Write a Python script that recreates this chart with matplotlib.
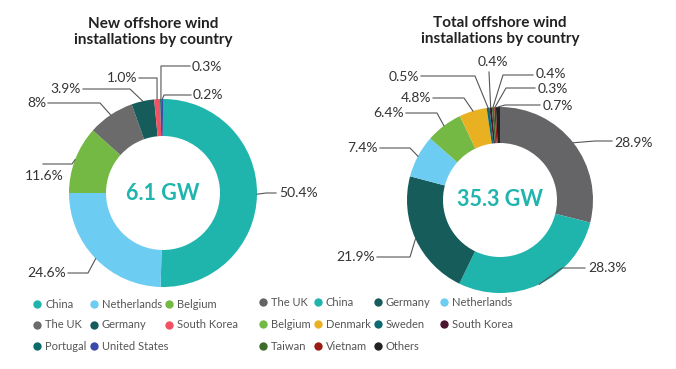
import numpy as np
import matplotlib.pyplot as plt

# New installations (left donut)
new_countries = ['China', 'Netherlands', 'Belgium', 'The UK', 'Germany',
                 'South Korea', 'Portugal', 'United States']
new_share = [50.4, 24.6, 11.6, 8.0, 3.9, 1.0, 0.3, 0.2]
new_labels = ['50.4%', '24.6%', '11.6%', '8%', '3.9%', '1.0%', '0.3%', '0.2%']
new_colors = ['#1fb5ad', '#6dccf2', '#74b944', '#6b6b6b', '#165c5a',
              '#f05264', '#0e6b6b', '#3c4bab']
new_total = '6.1 GW'

# Total installations (right donut)
tot_countries = ['The UK', 'China', 'Germany', 'Netherlands', 'Belgium', 'Denmark',
                 'Sweden', 'South Korea', 'Taiwan', 'Vietnam', 'Others']
tot_share = [28.9, 28.3, 21.9, 7.4, 6.4, 4.8, 0.5, 0.4, 0.4, 0.3, 0.7]
tot_labels = ['28.9%', '28.3%', '21.9%', '7.4%', '6.4%', '4.8%',
              '0.5%', '0.4%', '0.4%', '0.3%', '0.7%']
tot_colors = ['#656567', '#1fb5ad', '#165c5a', '#6dccf2', '#74b944', '#e9b022',
              '#0d6a70', '#4b1530', '#3d6c2b', '#9b1b14', '#222222']
tot_total = '35.3 GW'

W, H = 676, 369
FONT = 'Lato'
TEAL = '#1fb5ad'
LINE = '#555555'

# label layout: elbow point, line end, text position, alignment (pixels)
new_layout = [
    ((266, 193), (276, 193), (279, 193), 'left'),
    ((88, 273), (68, 273), (66, 273), 'right'),
    ((72, 164), (43, 164), (25, 176), 'left'),
    ((100, 103), (48, 103), (46, 103), 'right'),
    ((130, 89), (83, 89), (81, 89), 'right'),
    ((157, 78), (139, 78), (137, 78), 'right'),
    ((161, 66), (190, 66), (192, 67), 'left'),
    ((164, 95), (191, 95), (193, 95), 'left'),
]
tot_layout = [
    ((595, 141), (612, 141), (614, 143), 'left'),
    ((562, 268), (585, 268), (588, 268), 'left'),
    ((410, 257), (377, 257), (375, 257), 'right'),
    ((410, 148), (380, 148), (378, 148), 'right'),
    ((437, 113), (406, 113), (404, 113), 'right'),
    ((464, 98), (433, 98), (431, 98), 'right'),
    ((475, 76), (421, 76), (419, 77), 'right'),
    ((489, 72), (489, 72), (493, 62), 'center'),
    ((503, 75), (533, 75), (536, 74), 'left'),
    ((506, 88), (535, 88), (538, 89), 'left'),
    ((505, 105), (540, 105), (543, 106), 'left'),
]


def donut(ax, values, colors, center, radius, width, labels, layout, total, title, title_pos):
    ax.pie(values, colors=colors, center=center, radius=radius, startangle=-90,
           counterclock=True, frame=True, wedgeprops=dict(width=width, linewidth=0))
    # leader lines from mid-angle of each wedge
    cum = np.cumsum([0] + list(values))
    fr = (cum[:-1] + cum[1:]) / 2 / cum[-1]
    for f, lab, (elbow, end, tpos, ha) in zip(fr, labels, layout):
        a = 2 * np.pi * f
        ax0 = center[0] + radius * np.sin(a)
        ay0 = center[1] - radius * np.cos(a)
        ax.plot([ax0, elbow[0], end[0]], [ay0, elbow[1], end[1]], color=LINE, lw=0.8)
        ax.text(tpos[0], tpos[1], lab, ha=ha, va='center', fontsize=10,
                family=FONT, color='#333333')
    ax.text(center[0], center[1], total, ha='center', va='center', fontsize=15.5,
            fontweight='bold', family=FONT, color=TEAL)
    ax.text(title_pos[0], title_pos[1], title,
            ha='center', va='center', fontsize=11, fontweight='bold',
            family=FONT, color='#222222', linespacing=1.25)


def legend(ax, names, colors, col_x, row_y):
    ncol = len(col_x)
    for i, (n, c) in enumerate(zip(names, colors)):
        x = col_x[i % ncol]
        y = row_y[i // ncol]
        ax.scatter([x], [y], s=36, color=c, linewidths=0)
        ax.text(x + 8, y, n, ha='left', va='center', fontsize=8,
                family=FONT, color='#555555')


fig = plt.figure(figsize=(W / 100, H / 100), dpi=100)
ax = fig.add_axes([0, 0, 1, 1])

donut(ax, new_share, new_colors, (163, 193), 94, 37, new_labels, new_layout,
      new_total, 'New offshore wind\ninstallations by country', (153, 32))
donut(ax, tot_share, tot_colors, (500, 200), 93, 36, tot_labels, tot_layout,
      tot_total, 'Total offshore wind\ninstallations by country', (500, 31))

legend(ax, new_countries, new_colors, [37, 94, 169], [304, 325, 346])
legend(ax, tot_countries, tot_colors, [263, 318, 378, 444], [302, 324, 346])

ax.set_xlim(0, W)
ax.set_ylim(H, 0)
ax.set_aspect('auto')
ax.axis('off')

fig.savefig('out.png', dpi=100, facecolor='white')
